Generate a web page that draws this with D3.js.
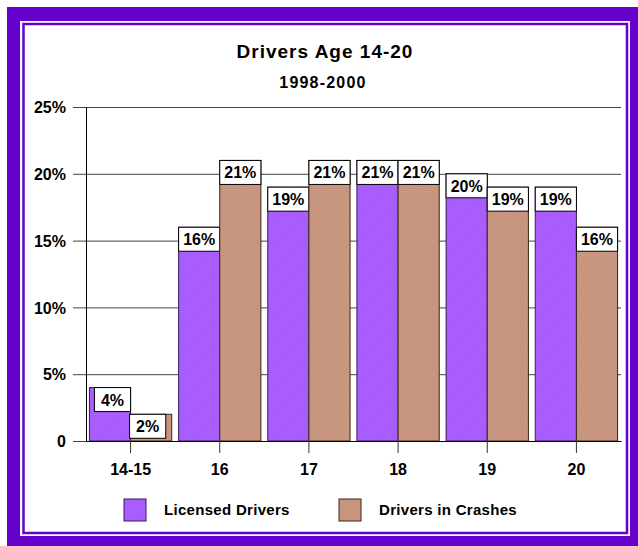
<!DOCTYPE html>
<html>
<head>
<meta charset="utf-8">
<script src="https://cdn.jsdelivr.net/npm/d3@7"></script>
<style>
  body { margin: 0; background: #fff; }
  svg { display: block; font-family: "Liberation Sans", Arial, sans-serif; }
  .tick text { font-weight: bold; fill: #000; }
</style>
</head>
<body>
<svg width="638" height="546"></svg>
<script>
const titleText = 'Drivers Age 14-20';
const subtitleText = '1998-2000';

const ageGroups = ['14-15', '16', '17', '18', '19', '20'];
const seriesNames = ['Licensed Drivers', 'Drivers in Crashes'];
const licensedDrivers = [4, 16, 19, 21, 20, 19];
const driversInCrashes = [2, 21, 21, 21, 19, 16];
const yTicks = [0, 5, 10, 15, 20, 25];

const svg = d3.select('svg');
const width = +svg.attr('width');
const height = +svg.attr('height');

// frame
svg.append('rect').attr('x', 7).attr('y', 7).attr('width', width - 7).attr('height', height - 7)
  .attr('fill', '#6600cc');
svg.append('rect').attr('x', 20).attr('y', 21).attr('width', 610).attr('height', 515)
  .attr('fill', '#fff');
svg.append('rect').attr('x', 23.5).attr('y', 24).attr('width', 603.5).attr('height', 509)
  .attr('fill', 'none').attr('stroke', '#6600cc').attr('stroke-width', 2.5);

// textures
const defs = svg.append('defs');
const makePattern = (id, base, line) => {
  const p = defs.append('pattern').attr('id', id).attr('patternUnits', 'userSpaceOnUse')
    .attr('width', 3).attr('height', 3);
  p.append('rect').attr('width', 3).attr('height', 3).attr('fill', base);
  p.append('path').attr('d', 'M0,3 L3,0').attr('stroke', line).attr('stroke-width', 0.7);
};
makePattern('pLic', '#ad62ff', '#9b4cf2');
makePattern('pCra', '#cc9a82', '#b98772');
const colors = ['url(#pLic)', 'url(#pCra)'];
const strokes = ['#3a1a5a', '#3a2418'];

const x0 = 86, x1 = 621, yTop = 107, yBot = 441;

const yScale = d3.scaleLinear().domain([0, 25]).range([yBot, yTop]);
const xScale = d3.scaleBand().domain(ageGroups).range([x0, x1])
  .paddingInner(0.077).paddingOuter(0.0385);
const xSub = d3.scaleBand().domain(seriesNames).range([0, xScale.bandwidth()]);

// title
svg.append('text').attr('x', 325).attr('y', 58).attr('text-anchor', 'middle')
  .attr('font-size', 19).attr('font-weight', 'bold').attr('letter-spacing', 1)
  .text(titleText);
svg.append('text').attr('x', 323).attr('y', 88).attr('text-anchor', 'middle')
  .attr('font-size', 16).attr('font-weight', 'bold').attr('letter-spacing', 1.2)
  .text(subtitleText);

// gridlines
const grid = svg.append('g').attr('transform', `translate(${x0},0)`)
  .call(d3.axisLeft(yScale).tickValues(yTicks).tickSize(-(x1 - x0)).tickFormat(''));
grid.select('.domain').remove();
grid.selectAll('.tick line').attr('stroke', '#444');

// y axis
const yAxisG = svg.append('g').attr('transform', `translate(${x0},0)`)
  .call(d3.axisLeft(yScale).tickValues(yTicks).tickSize(13).tickPadding(7)
    .tickFormat(d => d === 0 ? '0' : d + '%'));
yAxisG.select('.domain').attr('stroke', '#000');
yAxisG.selectAll('.tick text').attr('font-size', 16).attr('dy', '0.35em');
yAxisG.selectAll('.tick line').attr('stroke', '#444');

// bars
const rows = ageGroups.map((g, i) => ({ group: g, values: [licensedDrivers[i], driversInCrashes[i]] }));
const groups = svg.append('g').selectAll('g').data(rows).enter().append('g')
  .attr('transform', d => `translate(${xScale(d.group)},0)`);

const cells = groups.selectAll('g').data(d => d.values.map((v, k) => ({ name: seriesNames[k], k, v })))
  .enter().append('g');

cells.append('rect')
  .attr('x', d => xSub(d.name))
  .attr('y', d => yScale(d.v))
  .attr('width', xSub.bandwidth())
  .attr('height', d => yBot - yScale(d.v))
  .attr('fill', d => colors[d.k])
  .attr('stroke', d => strokes[d.k])
  .attr('stroke-width', 1);

// value boxes (narrower on the short 14-15 bars)
const boxInset = d => d.v < 10 ? (d.k === 0 ? 5 : -1) : 0;
const boxW = d => xSub.bandwidth() - (d.v < 10 ? 5 : 0);
cells.append('rect')
  .attr('x', d => xSub(d.name) + boxInset(d))
  .attr('y', d => yScale(d.v))
  .attr('width', boxW)
  .attr('height', 24)
  .attr('fill', '#fff')
  .attr('stroke', '#000')
  .attr('stroke-width', 1);

cells.append('text')
  .attr('x', d => xSub(d.name) + boxInset(d) + boxW(d) / 2)
  .attr('y', d => yScale(d.v) + 18)
  .attr('text-anchor', 'middle')
  .attr('font-size', 16)
  .attr('font-weight', 'bold')
  .text(d => d.v + '%');

// x axis
const xAxisG = svg.append('g').attr('transform', `translate(0,${yBot})`)
  .call(d3.axisBottom(xScale).tickSize(12).tickSizeOuter(0).tickPadding(11));
xAxisG.select('.domain').attr('stroke', '#000');
xAxisG.selectAll('.tick line').attr('stroke', '#333');
xAxisG.selectAll('.tick text').attr('font-size', 16);

// legend
const legendX = [124, 339];
const legend = svg.append('g').selectAll('g').data(seriesNames).enter().append('g')
  .attr('transform', (d, i) => `translate(${legendX[i]},499)`);
legend.append('rect').attr('width', 22).attr('height', 22)
  .attr('fill', (d, i) => colors[i]).attr('stroke', (d, i) => strokes[i]);
legend.append('text').attr('x', 40).attr('y', 16)
  .attr('font-size', 15).attr('font-weight', 'bold').attr('letter-spacing', 0.3)
  .text(d => d);
</script>
</body>
</html>
